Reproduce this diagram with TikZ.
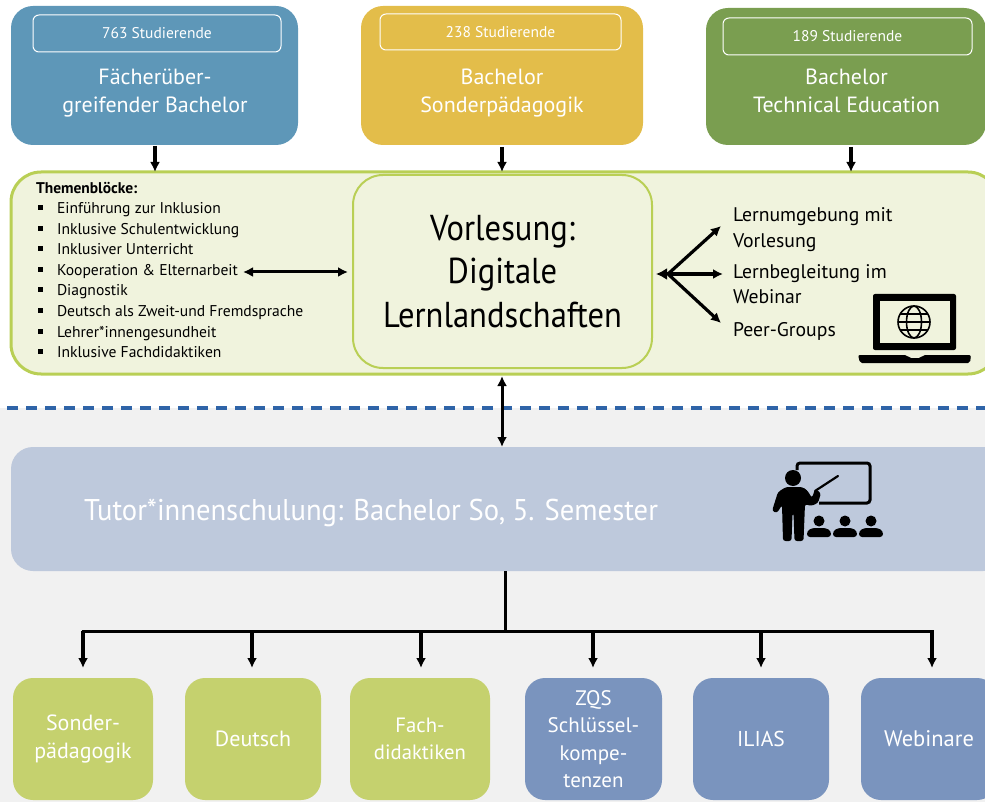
\documentclass[tikz,border=0pt]{standalone}
\usepackage{fontspec}
\setmainfont{PT Sans}
\newfontfamily\vorfont[FakeStretch=0.905]{PT Sans}
\newfontfamily\tutfont[FakeStretch=0.954]{PT Sans}
\usetikzlibrary{arrows.meta}
\definecolor{cblue}{HTML}{5E97B8}
\definecolor{cyellow}{HTML}{E3BD4A}
\definecolor{cgreen}{HTML}{7A9E50}
\definecolor{cpale}{HTML}{F0F3DD}
\definecolor{cline}{HTML}{B9CF55}
\definecolor{ctutor}{HTML}{BEC9DC}
\definecolor{clime}{HTML}{C5D16E}
\definecolor{csteel}{HTML}{7A94BE}
\definecolor{cdash}{HTML}{2F64A8}
\definecolor{cgrey}{HTML}{F1F1F1}
\tikzset{
  x=1pt,y=-1pt,
  box/.style={rounded corners=22pt,inner sep=0pt,outer sep=0pt,align=center,text=white,font=\fontsize{22}{28}\selectfont},
  countbox/.style={draw=white,line width=1pt,rounded corners=6pt,inner sep=0pt,outer sep=0pt,text=white,font=\fontsize{15.5}{17}\selectfont},
  subbox/.style={box,rounded corners=20pt,font=\fontsize{21.5}{27.5}\selectfont},
  listitem/.style={anchor=base west,inner sep=0pt,outer sep=0pt,font=\fontsize{15.6}{18}\selectfont},
  righttext/.style={anchor=base west,inner sep=0pt,outer sep=0pt,font=\fontsize{19.7}{26}\selectfont},
  arr/.style={-{Latex[length=10pt,width=10pt]},line width=3.2pt,black},
  darr/.style={{Latex[length=10pt,width=10pt]}-{Latex[length=10pt,width=10pt]},line width=3pt,black},
}
\begin{document}
\begin{tikzpicture}
\useasboundingbox (0,0) rectangle (985,802);
\fill[cgrey] (0,408) rectangle (985,802);
\draw[cdash,line width=3.2pt,dash pattern=on 11pt off 8pt,dash phase=12pt] (0,408) -- (985,408);

% top boxes
\node[box,fill=cblue,minimum width=287pt,minimum height=139pt] (blue) at (154.5,75.5) {};
\node[box,fill=cyellow,minimum width=282pt,minimum height=139pt] (yellow) at (502,75.5) {};
\node[box,fill=cgreen,minimum width=280pt,minimum height=137pt] (green) at (846,76.5) {};
\node[countbox,minimum width=248pt,minimum height=37pt] (c1) at (157,33.5) {763 Studierende};
\node[countbox,minimum width=241pt,minimum height=36pt] (c2) at (500.5,32) {238 Studierende};
\node[countbox,minimum width=249pt,minimum height=37pt] (c3) at (847.5,36.5) {189 Studierende};
\node[box,anchor=center] (t1) at (155,93.5) {Fächerüber-\\greifender Bachelor};
\node[box,anchor=center] (t2) at (502,93.5) {Bachelor\\Sonderpädagogik};
\node[box,anchor=center] (t3) at (846.5,91) {Bachelor\\Technical Education};

% large pale box
\node[draw=cline,fill=cpale,line width=3pt,rounded corners=30pt,inner sep=0pt,outer sep=0pt,minimum width=987pt,minimum height=202pt] (big) at (504.5,273) {};
\node[draw=cline,fill=cpale,line width=2pt,rounded corners=30pt,inner sep=0pt,outer sep=0pt,minimum width=299pt,minimum height=193pt,align=center,font=\vorfont\fontsize{36}{43.5}\selectfont] (vor) at (502.5,271.5) {Vorlesung:\\Digitale\\Lernlandschaften};

% list
\node[listitem,font=\fontsize{15.5}{18}\selectfont\bfseries] (head) at (36,193.5) {Themenblöcke:};
\foreach \i/\yy/\t in {1/214/{Einführung zur Inklusion},2/234.5/{Inklusive Schulentwicklung},3/255/{Inklusiver Unterricht},4/275.5/{Kooperation \& Elternarbeit},5/296/{Diagnostik},6/316.5/{Deutsch als Zweit-und Fremdsprache},7/337/{Lehrer*innengesundheit},8/357/{Inklusive Fachdidaktiken}}{
  \node[listitem] (item\i) at (57,\yy) {\t};
  \fill[black] (38,\yy-8.5) rectangle (43,\yy-3.5);
}

% right texts
\node[righttext] (r1) at (733,222) {Lernumgebung mit};
\node[righttext] (r2) at (733,248) {Vorlesung};
\node[righttext] (r3) at (733,279) {Lernbegleitung im};
\node[righttext] (r4) at (733,304) {Webinar};
\node[righttext] (r5) at (733,336) {Peer-Groups};

% connectors upper
\coordinate (a1) at (155,146); \coordinate (a2) at (502,147); \coordinate (a3) at (851,147);
\draw[arr] (a1) -- (a1 |- big.north) ;
\draw[arr] (a2) -- (a2 |- big.north) ;
\draw[arr] (a3) -- (a3 |- big.north) ;
\coordinate (kl) at (243,272); \coordinate (kr) at (348,272);
\draw[darr] (kl) -- (kr);
\coordinate (hub) at (668,274); \coordinate (hubl) at (656,274);
\draw[-{Latex[length=11pt,width=12pt]},line width=3pt] (hub) -- (hubl);
\coordinate (h1) at (721,226); \coordinate (h2) at (723,274); \coordinate (h3) at (721,323);
\draw[arr] (hub) -- (h1);
\draw[arr] (hub) -- (h2);
\draw[arr] (hub) -- (h3);

% laptop
\fill[black,rounded corners=2pt] (873,294) rectangle (956,350);
\fill[cpale] (880,301) rectangle (950,343);
\draw[black,line width=1.6pt] (914,322) circle (16);
\draw[black,line width=1.6pt] (914,322) ellipse (7.5 and 16);
\draw[black,line width=1.4pt] (898,322) -- (930,322);
\draw[black,line width=1.4pt] (900,314) -- (928,314);
\draw[black,line width=1.4pt] (900,330) -- (928,330);
\fill[black,rounded corners=2pt] (858,355) -- (907,355) -- (909,358) -- (921,358) -- (923,355) -- (971,355) -- (970,363) -- (860,363) -- cycle;

% tutor box
\node[box,fill=ctutor,minimum width=994pt,minimum height=124pt] (tutor) at (508,509) {};
\node[anchor=base west,inner sep=0pt,text=white,font=\tutfont\fontsize{30}{36}\selectfont] (tutortext) at (84,520) {Tutor*innenschulung: Bachelor So, 5. Semester};
\draw[darr] (big.south -| a2) ++(0,2) -- (tutor.north -| a2);

% teacher icon
\draw[black,line width=3pt,rounded corners=3pt] (797,470) -- (797,463) -- (870,463) -- (870,503) -- (819,503);
\draw[black,line width=2.2pt,line cap=round] (815,491) -- (838,476);
\fill[black] (793,478) circle (8);
\fill[black,rounded corners=2.5pt] (786,487) -- (802,487) -- (807,490) -- (812,498) -- (815,489) -- (821,493) -- (818,503) -- (811,506) -- (805,504) -- (803.5,541) -- (794.5,541) -- (793.5,513) -- (792.5,513) -- (791.5,541) -- (783,541) -- (782,505) -- (777,513) -- (772,511) -- (778,492) -- cycle;
\foreach \cx in {819,845,871}{
  \fill[black] (\cx,521) circle (5.5);
  \fill[black,rounded corners=3pt] (\cx-12,537) -- (\cx-12,531) -- (\cx-7,528) -- (\cx+7,528) -- (\cx+12,531) -- (\cx+12,537) -- cycle;
}

% bottom boxes
\node[subbox,fill=clime,minimum width=140pt,minimum height=122pt,font=\fontsize{22}{27.5}\selectfont] (s1) at (83,739) {Sonder-\\pädagogik};
\node[subbox,fill=clime,minimum width=136pt,minimum height=122pt,font=\fontsize{22}{27.5}\selectfont] (s2) at (253,739) {Deutsch};
\node[subbox,fill=clime,minimum width=140pt,minimum height=122pt,font=\fontsize{20.7}{27.5}\selectfont] (s3) at (420,739) {Fach-\\didaktiken};
\node[subbox,fill=csteel,minimum width=137pt,minimum height=122pt,font=\fontsize{21}{27.5}\selectfont] (s4) at (593.5,739) {ZQS\\Schlüssel-\\kompe-\\tenzen};
\node[subbox,fill=csteel,minimum width=136pt,minimum height=122pt] (s5) at (761,739) {ILIAS};
\node[subbox,fill=csteel,minimum width=136pt,minimum height=122pt,font=\fontsize{22.5}{27.5}\selectfont] (s6) at (929,739) {Webinare};

% tree
\coordinate (bar) at (505,631);
\draw[black,line width=3pt] (tutor.south -| bar) -- (bar);
\coordinate (d1) at (83,631); \coordinate (d6) at (932,631);
\draw[black,line width=3pt] ([xshift=-1.5pt]d1) -- ([xshift=1.5pt]d6);
\foreach \n/\xx in {1/83,2/252,3/421,4/593,5/761,6/932}{
  \coordinate (top\n) at (\xx,631);
  \coordinate (end\n) at (\xx,668);
  \draw[arr] (top\n) -- (end\n);
}
\end{tikzpicture}
\end{document}
